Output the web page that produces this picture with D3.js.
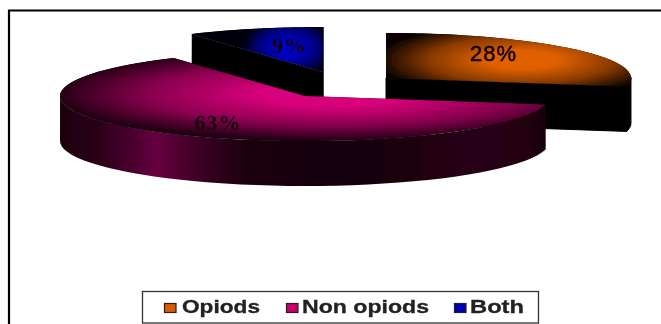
<!DOCTYPE html>
<html><head><meta charset="utf-8">
<script src="https://cdn.jsdelivr.net/npm/d3@7"></script>
<style>html,body{margin:0;padding:0;background:#fff;overflow:hidden}svg{display:block}</style>
</head><body><svg id="c" width="661" height="324"></svg>
<script>
const categories = ["Opiods", "Non opiods", "Both"];
const values = [28, 63, 9];
const labels = ["28%", "63%", "9%"];
const topColors = ["#e06000", "#d9007c", "#0000c4"];
const edgeColors = ["#100600", "#16000c", "#000010"];
const legendSwatches = ["#d85c00", "#c8006e", "#0000b0"];
const centers = [[386, 78], [305, 96], [323, 72]];
const glow = [[522, 60], [335, 94], [288, 48]];
const glowR = [[142, 36], [290, 48], [46, 30]];
const labelPos = [[493.5, 61], [218, 130], [289.5, 53]];
const labelFont = ["Liberation Sans", "Liberation Serif", "Liberation Serif"];
const labelWeight = ["normal", "bold", "bold"];
const labelStroke = [0.5, 0, 0];
const sideStops = [[0,"#1c000e"],[0.08,"#2c0018"],[0.15,"#4a0030"],[0.2,"#680042"],[0.24,"#520032"],[0.3,"#360020"],[0.4,"#1a000c"],[0.65,"#18000a"],[0.85,"#280014"],[0.96,"#220010"],[1,"#140008"]];
const legendX = [164, 286, 454];
const legendTextX = [182, 302, 470];
const legendTextW = [78, 127, 54];

const rx = 245, ry = 45, depth = 45;
const svg = d3.select("#c");
const defs = svg.append("defs");
const blur = defs.append("filter").attr("id","soft").attr("x","-5%").attr("y","-5%").attr("width","110%").attr("height","110%");
blur.append("feGaussianBlur").attr("stdDeviation",0.5);

const arcs = d3.pie().sort(null)(values);
const arc = d3.arc().innerRadius(0).outerRadius(rx);
const px = (a,i)=>centers[i][0]+rx*Math.sin(a);
const py = (a,i)=>centers[i][1]-ry*Math.cos(a);

const side = defs.append("linearGradient").attr("id","side").attr("gradientUnits","userSpaceOnUse")
  .attr("x1",60).attr("x2",546).attr("y1",0).attr("y2",0);
sideStops.forEach(s=>side.append("stop").attr("offset",s[0]).attr("stop-color",s[1]));

arcs.forEach((d,i)=>{
  const g = defs.append("radialGradient").attr("id","top"+i).attr("gradientUnits","userSpaceOnUse")
    .attr("cx",0).attr("cy",0).attr("r",1)
    .attr("gradientTransform",`translate(${glow[i][0]},${glow[i][1]}) scale(${glowR[i][0]},${glowR[i][1]})`);
  const mix = d3.interpolateRgb(topColors[i], edgeColors[i]);
  g.append("stop").attr("offset",0).attr("stop-color",topColors[i]);
  g.append("stop").attr("offset",0.25).attr("stop-color",topColors[i]);
  g.append("stop").attr("offset",0.65).attr("stop-color",mix(0.42));
  g.append("stop").attr("offset",1).attr("stop-color",edgeColors[i]);
});

const root = svg.append("g").attr("filter","url(#soft)");

function wall(d,i){
  const p = d3.path();
  const n = 60, ang = d3.range(n+1).map(k=>d.startAngle+(d.endAngle-d.startAngle)*k/n);
  const front = ang.filter(a=>Math.cos(a)<=0.02);
  if(front.length){
    p.moveTo(px(front[0],i),py(front[0],i));
    front.forEach(a=>p.lineTo(px(a,i),py(a,i)));
    front.slice().reverse().forEach(a=>p.lineTo(px(a,i),py(a,i)+depth));
    p.closePath();
  }
  return p.toString();
}
function face(a,i){
  const c = centers[i], p = d3.path();
  p.moveTo(c[0],c[1]);p.lineTo(px(a,i),py(a,i));p.lineTo(px(a,i),py(a,i)+depth);p.lineTo(c[0],c[1]+depth);p.closePath();
  return p.toString();
}
[2,0,1].forEach(i=>{
  const d = arcs[i];
  const g = root.append("g");
  if(i!==1){
    g.append("path").attr("d",face(d.startAngle,i)).attr("fill","#000");
    g.append("path").attr("d",face(d.endAngle,i)).attr("fill","#000").attr("stroke","#000");
  }
  g.append("path").attr("d",wall(d,i)).attr("fill",i===1?"url(#side)":"#000").attr("stroke",i===1?"none":"#000");
  g.append("path").attr("transform",`translate(${centers[i][0]},${centers[i][1]}) scale(1,${ry/rx})`)
    .attr("d",arc(d)).attr("fill","#000");
  g.append("path").attr("d",()=>{
    const p=d3.path();
    const n=80;p.moveTo(centers[i][0],centers[i][1]);
    d3.range(n+1).forEach(k=>{const a=d.startAngle+(d.endAngle-d.startAngle)*k/n;p.lineTo(px(a,i),py(a,i));});
    p.closePath();return p.toString();
  }).attr("fill",`url(#top${i})`);
});

labels.forEach((t,i)=>root.append("text").attr("x",labelPos[i][0]).attr("y",labelPos[i][1])
  .attr("text-anchor","middle").attr("font-family",labelFont[i]).attr("font-weight",labelWeight[i])
  .attr("font-size",22).attr("letter-spacing",1).attr("fill","#120008")
  .attr("stroke","#120008").attr("stroke-width",labelStroke[i]).text(t));

root.append("path").attr("d","M9,324V10.5H661").attr("fill","none").attr("stroke","#000").attr("stroke-width",2.2);

root.append("rect").attr("x",142.5).attr("y",291.5).attr("width",396).attr("height",31.5).attr("fill","#fff").attr("stroke","#333").attr("stroke-width",1.3);
categories.forEach((c,i)=>{
  root.append("rect").attr("x",legendX[i]+0.5).attr("y",303.5).attr("width",11.5).attr("height",9)
    .attr("fill",legendSwatches[i]).attr("stroke","#222").attr("stroke-width",1.2);
  root.append("text").attr("x",legendTextX[i]).attr("y",313).attr("font-family","Liberation Sans")
    .attr("font-weight","bold").attr("font-size",18).attr("textLength",legendTextW[i]).attr("lengthAdjust","spacingAndGlyphs")
    .attr("stroke","#222").attr("stroke-width",0.3).attr("fill","#222").text(c);
});
</script></body></html>
